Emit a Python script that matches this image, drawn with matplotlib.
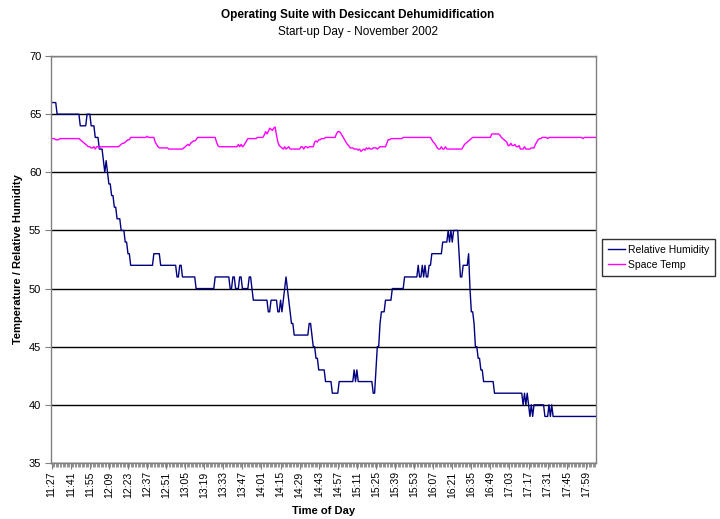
import numpy as np
import matplotlib
matplotlib.use('Agg')
import matplotlib.pyplot as plt
from matplotlib.ticker import MultipleLocator

# one reading per minute from 11:27, stored as (value, run length)
rh_values = [66, 65, 64, 65, 64, 63, 62, 61, 60, 61, 60, 59, 58, 57, 56, 55, 54, 53,
             52, 53, 52, 51, 52, 51, 50, 51, 50, 51, 50, 51, 50, 51, 50,
             49, 48, 49, 48, 49, 48, 49, 50, 51, 50, 49, 48, 47, 46, 47, 46,
             45, 44, 43, 42, 41, 42, 43, 42, 43, 42, 41, 43, 45, 47, 48, 49,
             50, 51, 52, 51, 52, 51, 52, 51, 52, 53, 54, 55, 54, 55, 54, 55,
             53, 51, 52, 53, 50, 48, 47, 45, 44, 43, 42, 41, 40, 41, 40, 41,
             40, 39, 40, 39, 40, 39, 40, 39, 40, 39]
rh_counts = [4, 17, 5, 3, 3, 3, 3, 1, 1, 1, 1, 2, 2, 2, 3, 3, 2, 2,
             17, 5, 12, 2, 2, 10, 14, 11, 2, 2, 3, 2, 5, 2, 1,
             11, 2, 5, 2, 1, 1, 1, 1, 1, 1, 1, 1, 2, 11, 2, 1,
             2, 2, 5, 5, 5, 11, 1, 1, 1, 11, 2, 1, 2, 1, 3, 5,
             9, 10, 1, 2, 1, 1, 1, 2, 2, 8, 4, 1, 1, 1, 1, 4,
             1, 2, 4, 1, 1, 2, 1, 2, 2, 2, 8, 21, 1, 1, 1, 1,
             1, 1, 1, 1, 8, 3, 1, 1, 1, 32]

temp_values = [62.9, 62.8, 62.9, 62.8, 62.7, 62.6, 62.5, 62.4, 62.3, 62.2,
               62.1, 62.2, 62.0, 62.2, 62.1, 62.2, 62.2,
               62.3, 62.4, 62.5, 62.6, 62.7, 62.8, 63.0, 63.1, 63.0,
               62.6, 62.4, 62.2, 62.1, 62.0,
               62.1, 62.2, 62.3, 62.4, 62.3, 62.5, 62.6, 62.7, 62.8, 63.0,
               62.6, 62.3, 62.2, 62.4, 62.2, 62.4, 62.2, 62.3, 62.5, 62.7,
               62.9, 63.0, 63.2, 63.5, 63.3, 63.5, 63.8, 63.7, 63.6, 63.8, 63.9,
               63.2, 62.6, 62.3, 62.2, 62.1, 62.0, 62.2, 62.0, 62.1, 62.2, 62.0,
               62.0, 62.2, 62.0, 62.2, 62.1, 62.2,
               62.6, 62.7, 62.6, 62.8, 62.9, 63.0, 63.0,
               63.3, 63.5, 63.4, 63.2, 63.0, 62.8, 62.6, 62.4, 62.3,
               62.1, 62.0, 61.9, 62.0, 61.8, 61.9, 62.0, 61.9,
               62.1, 62.0, 62.1, 62.0, 62.1, 62.0, 62.1, 62.2,
               62.5, 62.8, 62.9, 63.0,
               62.8, 62.6, 62.5, 62.3, 62.1, 62.0, 62.2, 62.0, 62.2, 62.0,
               62.2, 62.4, 62.5, 62.6, 62.7, 62.8, 62.9, 63.0, 63.3,
               63.2, 63.0, 62.9, 62.8, 62.7, 62.6,
               62.3, 62.5, 62.3, 62.4, 62.2, 62.3,
               62.0, 62.2, 62.0, 62.1,
               62.4, 62.6, 62.8, 62.9, 63.0, 62.9, 63.0, 62.9, 63.0]
temp_counts = [3, 3, 15, 1, 1, 1, 1, 1, 1, 2,
               2, 1, 1, 2, 1, 3, 11,
               1, 1, 2, 1, 1, 2, 12, 1, 5,
               1, 1, 1, 7, 11,
               1, 1, 1, 1, 1, 1, 1, 2, 1, 14,
               1, 1, 14, 1, 1, 1, 1, 1, 1, 1,
               7, 5, 1, 1, 1, 1, 1, 1, 1, 1, 1,
               1, 1, 1, 1, 1, 1, 1, 1, 1, 1, 1,
               7, 2, 1, 2, 1, 4,
               1, 1, 1, 2, 3, 1, 7,
               1, 2, 1, 1, 1, 1, 1, 1, 1,
               3, 3, 1, 1, 1, 1, 1, 1,
               1, 1, 1, 2, 3, 1, 1, 5,
               1, 2, 9, 21,
               1, 1, 1, 1, 1, 2, 1, 2, 1, 12,
               1, 1, 1, 1, 1, 1, 1, 14, 6,
               1, 1, 1, 1, 1, 1,
               2, 1, 2, 1, 2, 1,
               3, 1, 4, 3,
               1, 1, 1, 2, 4, 1, 25, 1, 9]

time_labels = ['11:27', '11:41', '11:55', '12:09', '12:23', '12:37', '12:51',
               '13:05', '13:19', '13:33', '13:47', '14:01', '14:15', '14:29',
               '14:43', '14:57', '15:11', '15:25', '15:39', '15:53', '16:07',
               '16:21', '16:35', '16:49', '17:03', '17:17', '17:31', '17:45',
               '17:59']

rh = np.repeat(rh_values, rh_counts)
temp = np.repeat(temp_values, temp_counts)
n = len(rh)

plt.rcParams['font.family'] = ['Liberation Sans', 'DejaVu Sans']

fig = plt.figure(figsize=(7.2, 5.19), dpi=100)
ax = fig.add_axes([0.0708, 0.108, 0.757, 0.784])

ax.plot(np.arange(len(rh)), rh, color='#000080', lw=1, label='Relative Humidity')
ax.plot(np.arange(len(temp)), temp, color='#FF00FF', lw=1, label='Space Temp')

ax.set_xlim(-0.5, n - 0.5)
ax.set_ylim(35, 70)
ax.yaxis.set_major_locator(MultipleLocator(5))
ax.grid(axis='y', color='black', lw=1)
ax.set_axisbelow(True)

major = np.arange(0, n, 14)
ax.set_xticks(major)
ax.set_xticklabels(time_labels[:len(major)], rotation=90, fontsize=7.5)
ax.set_xticks(np.arange(0, n, 1), minor=True)
ax.tick_params(axis='x', which='major', length=4, color='#808080', pad=2)
ax.tick_params(axis='x', which='minor', length=3, color='#808080')
ax.tick_params(axis='y', length=4, color='#808080', labelsize=8, pad=3)

for side in ['left', 'right', 'top', 'bottom']:
    ax.spines[side].set_color('#808080')
    ax.spines[side].set_linewidth(1)

ax.set_xlabel('Time of Day', fontsize=8, fontweight='bold', labelpad=6)
ax.set_ylabel('Temperature / Relative Humidity', fontsize=8, fontweight='bold', labelpad=4)

fig.text(0.497, 0.972, 'Operating Suite with Desiccant Dehumidification',
         ha='center', va='center', fontsize=8.5, fontweight='bold')
fig.text(0.497, 0.938, 'Start-up Day - November 2002', ha='center', va='center', fontsize=8.5)

leg = ax.legend(loc='center left', bbox_to_anchor=(1.005, 0.505), fontsize=7.5,
                frameon=True, fancybox=False, handlelength=1.7, handletextpad=0.3,
                borderpad=0.55, borderaxespad=0.3, labelspacing=0.5)
leg.get_frame().set_edgecolor('black')
leg.get_frame().set_linewidth(1)

fig.savefig('out.png', dpi=100)
